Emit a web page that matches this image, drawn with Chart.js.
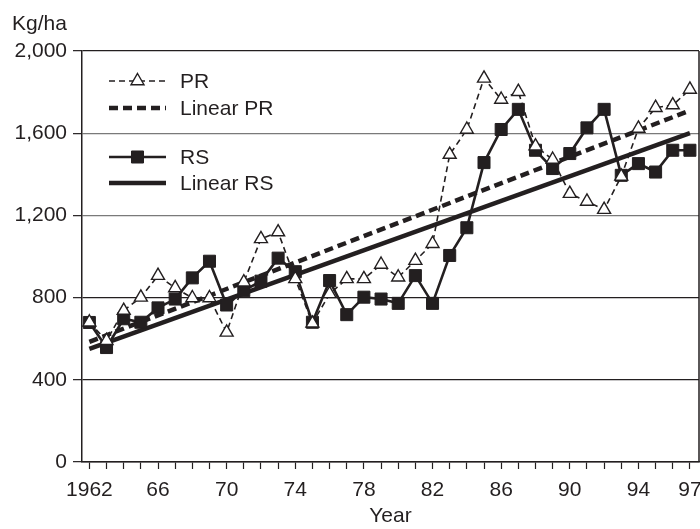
<!DOCTYPE html>
<html>
<head>
<meta charset="utf-8">
<script src="https://cdn.jsdelivr.net/npm/chart.js@4"></script>
<style>
  html, body { margin: 0; padding: 0; background: #fff; }
</style>
</head>
<body>
<canvas id="yieldChart" width="700" height="529"></canvas>
<script>
// --- Data ---
const years = [1962, 1963, 1964, 1965, 1966, 1967, 1968, 1969, 1970, 1971, 1972, 1973,
               1974, 1975, 1976, 1977, 1978, 1979, 1980, 1981, 1982, 1983, 1984, 1985,
               1986, 1987, 1988, 1989, 1990, 1991, 1992, 1993, 1994, 1995, 1996, 1997];
const prValues = [680, 590, 737, 801, 907, 847, 798, 798, 631, 875, 1086, 1119,
                  891, 675, 818, 891, 891, 961, 899, 980, 1062, 1496, 1618, 1867,
                  1764, 1802, 1537, 1472, 1306, 1268, 1228, 1390, 1623, 1724, 1737, 1813];
const rsValues = [679, 557, 697, 680, 750, 793, 896, 977, 764, 834, 880, 992,
                  926, 680, 883, 717, 802, 793, 772, 907, 772, 1005, 1140, 1457,
                  1618, 1716, 1517, 1428, 1501, 1626, 1716, 1395, 1452, 1411, 1517, 1517];
// trend lines: end points only
const trendYears = [1962, 1997];
const linearPrValues = [585, 1710];
const linearRsValues = [550, 1600];

const seriesLabels = ['PR', 'Linear PR', 'RS', 'Linear RS'];
const xTickYears = [1962, 1966, 1970, 1974, 1978, 1982, 1986, 1990, 1994, 1997];
const xTickLabels = ['1962', '66', '70', '74', '78', '82', '86', '90', '94', '97'];
const yTicks = [0, 400, 800, 1200, 1600, 2000];

const FONT = "'Liberation Sans', Arial, sans-serif";
const FONT_SIZE = 21;
const INK = '#231f20';

function toPoints(xs, ys) {
  return xs.map((x, i) => ({ x: x, y: ys[i] }));
}

function formatNumber(value) {
  return new Intl.NumberFormat('en-US').format(value);
}

// --- In-plot legend (line sample with marker in the middle) ---
const insideLegend = {
  id: 'insideLegend',
  afterDatasetsDraw(chart) {
    const { ctx, chartArea } = chart;
    const x0 = chartArea.left + 27, x1 = chartArea.left + 84, tx = chartArea.left + 98;
    const rowOffsets = [30, 57, 106, 132];
    chart.data.datasets.forEach((ds, i) => {
      const y = chartArea.top + rowOffsets[i];
      ctx.save();
      ctx.strokeStyle = ds.borderColor;
      ctx.lineWidth = ds.borderWidth;
      ctx.setLineDash(ds.borderDash || []);
      ctx.beginPath();
      ctx.moveTo(x0, y);
      ctx.lineTo(x1, y);
      ctx.stroke();
      ctx.setLineDash([]);
      if (ds.pointRadius > 0) {
        ctx.fillStyle = ds.pointBackgroundColor;
        ctx.strokeStyle = ds.pointBorderColor;
        ctx.lineWidth = ds.pointBorderWidth;
        Chart.helpers.drawPoint(ctx, {
          pointStyle: ds.pointStyle, radius: ds.pointRadius, borderWidth: ds.pointBorderWidth, rotation: 0
        }, (x0 + x1) / 2, y);
      }
      ctx.fillStyle = INK;
      ctx.font = FONT_SIZE + 'px ' + FONT;
      ctx.textAlign = 'left';
      ctx.textBaseline = 'middle';
      ctx.fillText(ds.label, tx, y + 1);
      ctx.restore();
    });
  }
};

// --- Right edge of the box + unit label ---
const frameAndUnit = {
  id: 'frameAndUnit',
  afterDraw(chart) {
    const { ctx, chartArea } = chart;
    ctx.save();
    ctx.strokeStyle = INK;
    ctx.lineWidth = 1.5;
    ctx.beginPath();
    ctx.moveTo(chartArea.right, chartArea.top);
    ctx.lineTo(chartArea.right, chartArea.bottom);
    ctx.stroke();
    ctx.fillStyle = INK;
    ctx.font = FONT_SIZE + 'px ' + FONT;
    ctx.textAlign = 'left';
    ctx.textBaseline = 'alphabetic';
    ctx.fillText('Kg/ha', 12, 30);
    ctx.restore();
  }
};

const ctx = document.getElementById('yieldChart').getContext('2d');
new Chart(ctx, {
  type: 'line',
  data: {
    datasets: [
      { // PR
        label: seriesLabels[0],
        data: toPoints(years, prValues),
        borderColor: INK, borderWidth: 1.6, borderDash: [6, 4],
        pointStyle: 'triangle', pointRadius: 7.5,
        pointBackgroundColor: '#fff', pointBorderColor: INK, pointBorderWidth: 1.4,
        tension: 0
      },
      { // Linear PR
        label: seriesLabels[1],
        data: toPoints(trendYears, linearPrValues),
        borderColor: INK, borderWidth: 4.5, borderDash: [9, 5],
        pointRadius: 0, tension: 0
      },
      { // RS
        label: seriesLabels[2],
        data: toPoints(years, rsValues),
        borderColor: INK, borderWidth: 2.6,
        pointStyle: 'rect', pointRadius: 8.5,
        pointBackgroundColor: INK, pointBorderColor: INK, pointBorderWidth: 1,
        tension: 0
      },
      { // Linear RS
        label: seriesLabels[3],
        data: toPoints(trendYears, linearRsValues),
        borderColor: INK, borderWidth: 4.5,
        pointRadius: 0, tension: 0
      }
    ]
  },
  options: {
    responsive: false,
    devicePixelRatio: 1,
    animation: false,
    layout: { autoPadding: false, padding: { top: 51, right: 1, left: 0, bottom: 0 } },
    plugins: {
      legend: { display: false },
      tooltip: { enabled: false }
    },
    scales: {
      x: {
        type: 'linear',
        min: 1961.57,
        max: 1997.53,
        afterBuildTicks: scale => { scale.ticks = years.map(v => ({ value: v })); },
        afterFit: scale => { scale.height = 67; scale.paddingLeft = 0; scale.paddingRight = 0; },
        ticks: {
          autoSkip: false, maxRotation: 0, padding: 9,
          color: INK, font: { family: FONT, size: FONT_SIZE },
          callback: value => {
            const i = xTickYears.indexOf(value);
            return i >= 0 ? xTickLabels[i] : '';
          }
        },
        grid: { drawOnChartArea: false, drawTicks: true, tickLength: 7, tickColor: INK, tickWidth: 1.2 },
        border: { color: INK, width: 1.5 },
        title: { display: true, text: 'Year', color: INK, font: { family: FONT, size: FONT_SIZE }, padding: { top: 0, bottom: 0 } }
      },
      y: {
        min: 0,
        max: 2000,
        afterBuildTicks: scale => { scale.ticks = yTicks.map(v => ({ value: v })); },
        afterFit: scale => { scale.width = 82; },
        ticks: {
          padding: 6, color: INK, font: { family: FONT, size: FONT_SIZE },
          callback: value => formatNumber(value)
        },
        grid: {
          tickLength: 9, tickColor: INK, tickWidth: 1.2, lineWidth: 1.3,
          color: c => (c.tick && (c.tick.value === 1200 || c.tick.value === 1600)) ? '#7a7a7a' : INK
        },
        border: { color: INK, width: 1.5 }
      }
    }
  },
  plugins: [insideLegend, frameAndUnit]
});
</script>
</body>
</html>
